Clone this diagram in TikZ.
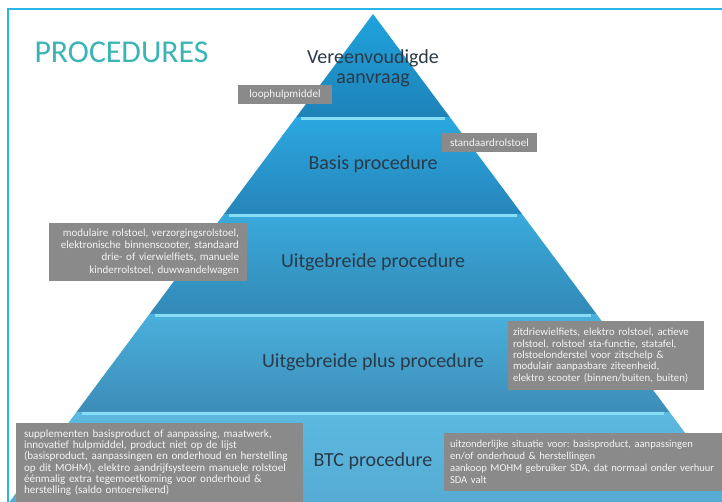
\documentclass[tikz,border=0pt]{standalone}
\usepackage{fontspec}
\setmainfont{Carlito}
\usetikzlibrary{calc}
\frenchspacing

\definecolor{framecol}{HTML}{29B5E8}
\definecolor{titlecol}{HTML}{3BB4B6}
\definecolor{leveltext}{HTML}{2B3A48}
\definecolor{boxgrey}{HTML}{8A8A8A}
\definecolor{boxtext}{HTML}{F4F4F4}
\definecolor{glintcol}{HTML}{86DDF5}
\definecolor{lvlAtop}{HTML}{1FA3DD}
\definecolor{lvlAbot}{HTML}{1E82B8}
\definecolor{lvlBtop}{HTML}{2BA8E0}
\definecolor{lvlBbot}{HTML}{2685BA}
\definecolor{lvlCtop}{HTML}{3AAADC}
\definecolor{lvlCbot}{HTML}{3289B6}
\definecolor{lvlDtop}{HTML}{4AB0DC}
\definecolor{lvlDbot}{HTML}{3C8DB8}
\definecolor{lvlEtop}{HTML}{5CB9DF}
\definecolor{lvlEbot}{HTML}{55AAD3}

\tikzset{
	label box/.style={fill=boxgrey, text=boxtext, inner sep=0pt, font=\fontsize{11.1}{11.3}\selectfont},
	level text/.style={text=leveltext, anchor=base, font=\fontsize{20}{20}\selectfont},
	glint/.style={draw=glintcol, line width=2.5pt},
}

\begin{document}
\begin{tikzpicture}[x=1pt,y=-1pt]
	\clip (0,0) rectangle (722,502);
	\fill[white] (0,0) rectangle (722,502);
	\draw[framecol, line width=1.5pt] (722,9) -- (8,9) -- (8,502); % Frame.

	\coordinate (apex) at (373,14);
	\coordinate (bl) at (3.5,510);
	\coordinate (br) at (742.5,510);
	\foreach \ta/\tb/\ctop/\cbot in {0/0.2077/lvlAtop/lvlAbot, 0.2077/0.4032/lvlBtop/lvlBbot, 0.4032/0.6048/lvlCtop/lvlCbot, 0.6048/0.8024/lvlDtop/lvlDbot, 0.8024/1/lvlEtop/lvlEbot}
		\shade[top color=\ctop, bottom color=\cbot] ($(apex)!\ta!(bl)$) -- ($(apex)!\tb!(bl)$) -- ($(apex)!\tb!(br)$) -- ($(apex)!\ta!(br)$) -- cycle; % Pyramid levels.
	\foreach \t in {0.2077,0.4032,0.6048,0.8024}
		\draw[glint] ($(apex)!\t!(bl)+(5,1.5)$) -- ($(apex)!\t!(br)+(-5,1.5)$);

	\node[titlecol, anchor=base west, font=\fontsize{31.8}{32}\selectfont] (title) at (31,63) {PROCEDURES};

	\node[level text, anchor=center, align=center] (vereen) at (373,68) {Vereenvoudigde\\aanvraag};
	\node[level text] (basis) at (373,170) {Basis procedure};
	\node[level text] (uitgebreid) at (373,268) {Uitgebreide procedure};
	\node[level text] (plus) at (373,367) {Uitgebreide plus procedure};
	\node[level text] (btc) at (373,466) {BTC procedure};

	\node[label box, minimum width=94pt, minimum height=19pt] (loop) at (285,94.5) {loophulpmiddel};
	\node[label box, minimum width=95pt, minimum height=19pt] (standaard) at (489.5,142.5) {standaardrolstoel};
	\node[label box, minimum width=198pt, minimum height=58pt, text width=182pt, align=right, font=\fontsize{11}{12.2}\selectfont] (modulair) at (148,252) {modulaire rolstoel, verzorgingsrolstoel,\\ elektronische binnenscooter, standaard\\ drie- of vierwielfiets, manuele\\ kinderrolstoel, duwwandelwagen};
	\node[label box, minimum width=196pt, minimum height=69pt, text width=186pt, align=left, font=\fontsize{10.8}{11.3}\selectfont] (zit) at (606,355.5) {zitdriewielfiets, elektro rolstoel, actieve\\ rolstoel, rolstoel sta-functie, statafel,\\ rolstoelonderstel voor zitschelp \&\\ modulair aanpasbare ziteenheid,\\ elektro scooter (binnen/buiten, buiten)};
	\node[label box, minimum width=287pt, minimum height=79pt, text width=271pt, align=left] (supplement) at (159.5,462.5) {supplementen basisproduct of aanpassing, maatwerk,\\ innovatief hulpmiddel, product niet op de lijst\\ (basisproduct, aanpassingen en onderhoud en herstelling\\ op dit MOHM), elektro aandrijfsysteem manuele rolstoel\\ éénmalig extra tegemoetkoming voor onderhoud \&\\ herstelling (saldo ontoereikend)};
	\node[label box, minimum width=320pt, minimum height=58pt, text width=308pt, align=left, font=\fontsize{10.6}{11.9}\selectfont] (uitzonder) at (604,462) {uitzonderlijke situatie voor: basisproduct, aanpassingen\\ en/of onderhoud \& herstellingen\\ aankoop MOHM gebruiker SDA, dat normaal onder verhuur\\ SDA valt};
\end{tikzpicture}
\end{document}
